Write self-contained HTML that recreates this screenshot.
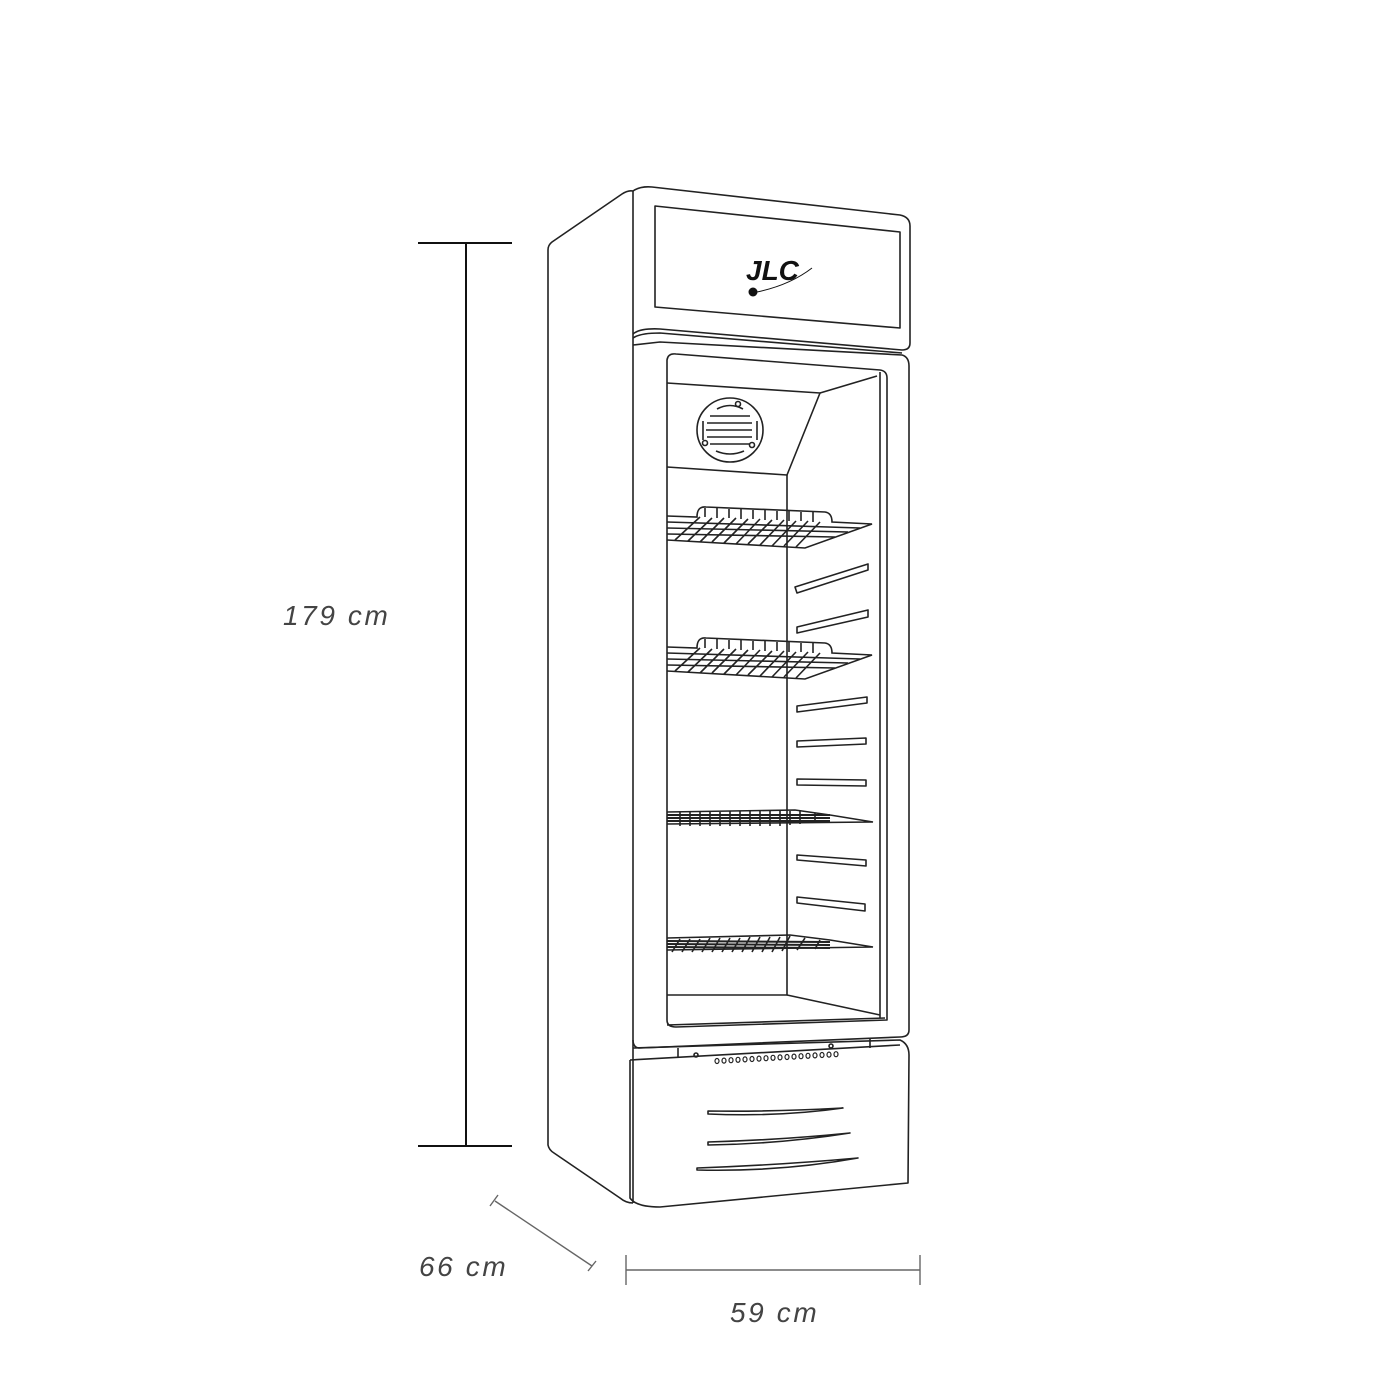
<!DOCTYPE html>
<html><head><meta charset="utf-8"><style>
html,body{margin:0;padding:0;background:#fff;width:1400px;height:1400px;overflow:hidden}
svg{display:block}
text{font-family:"Liberation Sans",sans-serif;font-style:italic;fill:#444;font-size:28px;letter-spacing:2.6px}
</style></head><body>
<svg width="1400" height="1400" viewBox="0 0 1400 1400" xmlns="http://www.w3.org/2000/svg">
<g fill="none" stroke="#222" stroke-width="1.6" stroke-linejoin="round">
<path d="M633 191 Q628 190 622 194 L552 242 Q548 245 548 250 L548 1145 Q549 1150 554 1153 L620 1198 Q626 1203 633 1203"/>
<path d="M633 191 L633 1203"/>
<path d="M633 191 Q640 186 652 187 L900 215 Q910 217 910 226 L910 343 Q910 350 902 350 L660 329 Q640 328 633 334"/>
<path d="M655 206 L900 232 L900 328 L655 307 Z"/>
<path d="M633 338 Q640 333 660 333 L902 353"/>
<path d="M633 345 L660 342 L902 355 Q909 357 909 366 L909 1030 Q909 1037 900 1037 L640 1048 Q633 1048 633 1040"/>
<path d="M667 360 Q668 353 676 354 L880 370 Q887 371 887 378 L887 1020 L676 1027 Q667 1027 667 1020 Z"/>
<path d="M667 1025 L885 1018"/>
<path d="M667 383 L820 393 L787 475 L667 467"/>
<path d="M820 393 L877 376"/>
<path d="M787 475 L787 995 L667 995"/>
<path d="M787 995 L880 1015"/>
<path d="M880 372 L880 1018"/>
<ellipse cx="730" cy="430" rx="33" ry="32"/>
<path d="M717 409 Q730 402 743 409 M710 416 L750 416 M707 423 L752 423 M706 430 L752 430 M707 437 L752 437 M710 444 L750 444 M716 451 Q730 457 744 451 M703 421 L703 440 M757 421 L757 440"/>
<circle cx="738" cy="404" r="2.5"/><circle cx="705" cy="443" r="2.5"/><circle cx="752" cy="445" r="2.5"/>
<path d="M795 587 L868 564 L868 570 L797 593 Z"/>
<path d="M797 627 L868 610 L868 617 L797 633 Z"/>
<path d="M797 706 L867 697 L867 703 L797 712 Z"/>
<path d="M797 741 L866 738 L866 744 L797 747 Z"/>
<path d="M797 779 L866 780 L866 786 L797 785 Z"/>
<path d="M797 855 L866 860 L866 866 L797 860 Z"/>
<path d="M797 897 L865 904 L865 911 L797 903 Z"/>
<path d="M633 1048 L900 1040 Q909 1044 909 1055 L908 1183 L660 1207 Q636 1207 630 1198 L630 1060"/>
<path d="M630 1060 L900 1045"/>
<path d="M678 1048 L678 1058 M870 1038 L870 1048"/>
<circle cx="696" cy="1055" r="2"/><circle cx="831" cy="1046" r="2"/>
<path d="M708 1111 Q770 1112 843 1108 Q780 1117 708 1114 Z"/>
<path d="M708 1142 Q780 1140 850 1133 Q780 1144 708 1145 Z"/>
<path d="M697 1168 Q780 1165 858 1158 Q780 1172 697 1170 Z"/>
</g>
<g fill="none" stroke="#222" stroke-width="1.2">
<ellipse cx="717" cy="1061" rx="2" ry="2.5"/><ellipse cx="724" cy="1060.6" rx="2" ry="2.5"/><ellipse cx="731" cy="1060.2" rx="2" ry="2.5"/><ellipse cx="738" cy="1059.8" rx="2" ry="2.5"/><ellipse cx="745" cy="1059.4" rx="2" ry="2.5"/><ellipse cx="752" cy="1059" rx="2" ry="2.5"/><ellipse cx="759" cy="1058.6" rx="2" ry="2.5"/><ellipse cx="766" cy="1058.2" rx="2" ry="2.5"/><ellipse cx="773" cy="1057.8" rx="2" ry="2.5"/><ellipse cx="780" cy="1057.4" rx="2" ry="2.5"/><ellipse cx="787" cy="1057" rx="2" ry="2.5"/><ellipse cx="794" cy="1056.6" rx="2" ry="2.5"/><ellipse cx="801" cy="1056.2" rx="2" ry="2.5"/><ellipse cx="808" cy="1055.8" rx="2" ry="2.5"/><ellipse cx="815" cy="1055.4" rx="2" ry="2.5"/><ellipse cx="822" cy="1055" rx="2" ry="2.5"/><ellipse cx="829" cy="1054.6" rx="2" ry="2.5"/><ellipse cx="836" cy="1054.2" rx="2" ry="2.5"/>
</g>
<g fill="none" stroke="#222" stroke-width="1.6">
<g id="s1">
<path d="M667 516 L697 517 Q697 506 706 507 L825 512 Q832 513 832 522 L872 524 L805 548 L667 540"/>
<path d="M667 522 L860 528 M667 528 L848 532 M667 534 L835 537"/>
<path d="M700 517 L675 540 M712 518 L688 541 M724 518 L700 542 M736 518 L712 542 M748 519 L724 543 M760 519 L736 544 M772 520 L748 544 M784 520 L760 545 M796 521 L772 546 M808 521 L784 546 M820 522 L796 547 M705 508 L705 517 M717 508 L717 518 M729 509 L729 518 M741 509 L741 519 M753 510 L753 519 M765 510 L765 520 M777 511 L777 520 M789 511 L789 521 M801 512 L801 521 M813 512 L813 522"/>
</g>
<use href="#s1" transform="translate(0,131)"/>
<path d="M667 812 L795 810 L830 815 L873 822 L667 824"/>
<path d="M667 815 L830 815 M667 818 L830 818 M667 821 L830 821" stroke-width="2"/>
<path d="M680 812 L680 826 M690 812 L690 826 M700 812 L700 826 M710 812 L710 826 M720 812 L720 826 M730 811 L730 826 M740 811 L740 826 M750 811 L750 826 M760 811 L760 826 M770 811 L770 826 M780 811 L780 826 M790 811 L790 825 M800 811 L800 824 M815 813 L815 823"/>
<path d="M667 938 L790 935 L830 940 L873 947 L667 950"/>
<path d="M667 941 L830 942 M667 944 L830 945 M667 947 L830 948" stroke-width="2"/>
<path d="M680 939 L672 952 M690 939 L682 952 M700 939 L692 952 M710 938 L702 952 M720 938 L712 952 M730 938 L722 952 M740 938 L732 952 M750 937 L742 952 M760 937 L752 952 M770 937 L762 952 M780 937 L772 952 M790 936 L782 951 M805 938 L797 950 M820 940 L815 949"/>
</g>
<g fill="#111">
<text x="746" y="280" style="font-weight:bold;font-size:28px;fill:#111;letter-spacing:0">JLC</text>
<circle cx="753" cy="292" r="4.5"/>
<path d="M757 292 Q790 285 812 268" fill="none" stroke="#111" stroke-width="1"/>
</g>
<g stroke="#111" stroke-width="2" fill="none">
<path d="M466 243 L466 1146 M418 243 L512 243 M418 1146 L512 1146"/>
</g>
<g stroke="#666" stroke-width="1.4" fill="none">
<path d="M626 1270 L920 1270 M626 1255 L626 1285 M920 1255 L920 1285"/>
<path d="M495 1201 L592 1266 M490 1206 L498 1195 M588 1271 L596 1261"/>
</g>
<text x="283" y="625">179 cm</text>
<text x="419" y="1276">66 cm</text>
<text x="730" y="1322">59 cm</text>
</svg>
</body></html>
